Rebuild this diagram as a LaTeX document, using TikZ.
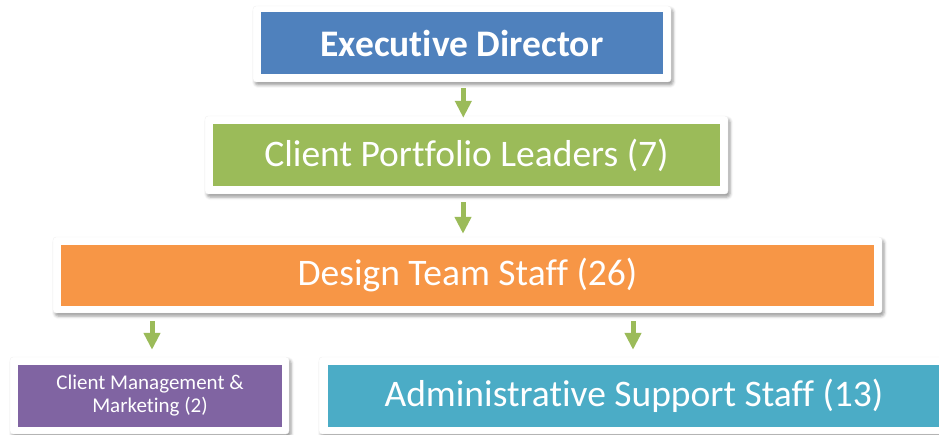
\documentclass[tikz,border=0pt]{standalone}
\usepackage{fontspec}
\setmainfont{Carlito}[Ligatures=NoCommon]
\usetikzlibrary{arrows.meta,shadows.blur,calc}
\definecolor{edblue}{HTML}{4F81BD}
\definecolor{cpgreen}{HTML}{9BBB59}
\definecolor{dtorange}{HTML}{F79646}
\definecolor{cmpurple}{HTML}{8064A2}
\definecolor{asteal}{HTML}{4BACC6}
\tikzset{
  frame/.style={rectangle, fill=white, draw=black!6, line width=0.4pt, rounded corners=3pt, inner sep=0pt,
    blur shadow={shadow xshift=2pt, shadow yshift=-3pt, shadow blur radius=3pt, shadow opacity=40}},
  inbox/.style={rectangle, inner sep=0pt, text=white, align=center},
  bigtext/.style={font=\fontsize{37.5}{40}\selectfont},
  arr/.style={draw=cpgreen, line width=5pt, -{Triangle[width=16pt,length=17pt]}}
}
\begin{document}
\begin{tikzpicture}[x=1pt,y=-1pt]
\useasboundingbox (0,0) rectangle (939,435);
\clip (0,0) rectangle (939,435);
% frames
\node[frame, minimum width=418pt, minimum height=76pt] (edF) at (462,44) {};
\node[inbox, fill=edblue, minimum width=402pt, minimum height=61.5pt, font=\fontsize{37.5}{40}\selectfont\bfseries] (ed) at (462,43.25) {Executive Director};

\node[frame, minimum width=523pt, minimum height=78pt] (cplF) at (466.5,155) {};
\node[inbox, fill=cpgreen, minimum width=507pt, minimum height=62pt, bigtext] (cpl) at (466.5,155) {Client Portfolio Leaders (7)};

\node[frame, minimum width=829pt, minimum height=76pt] (dtsF) at (467.5,275) {};
\node[inbox, fill=dtorange, minimum width=813pt, minimum height=61pt, bigtext] (dts) at (467.5,275.5) {Design Team Staff (26)};

\node[frame, minimum width=279pt, minimum height=77pt] (cmmF) at (149.5,395.5) {};
\node[inbox, fill=cmpurple, minimum width=264pt, minimum height=62pt, font=\fontsize{21}{23}\selectfont] (cmm) at (150,396) {Client Management \&\\Marketing (2)};

\node[frame, minimum width=631pt, minimum height=77pt] (assF) at (634.5,395.5) {};
\node[inbox, fill=asteal, minimum width=617pt, minimum height=62pt] (ass) at (636.5,396) {};
\node[inbox, bigtext, anchor=center] (asst) at (634,396) {Administrative Support Staff (13)};

% arrows
\coordinate (a1) at ($(edF.south)+(1.3,6)$);
\draw[arr] (a1) -- (a1 |- {$(cplF.north)+(0,2)$});
\coordinate (a2) at ($(cplF.south)+(-3.5,8)$);
\draw[arr] (a2) -- (a2 |- {$(dtsF.north)+(0,-3)$});
\draw[arr] ([xshift=2.5pt,yshift=-8pt]cmmF.north |- dtsF.south) -- ([xshift=2.5pt,yshift=7pt]cmmF.north);
\draw[arr] ([xshift=-1.5pt,yshift=-8pt]assF.north |- dtsF.south) -- ([xshift=-1.5pt,yshift=7pt]assF.north);
\end{tikzpicture}
\end{document}
